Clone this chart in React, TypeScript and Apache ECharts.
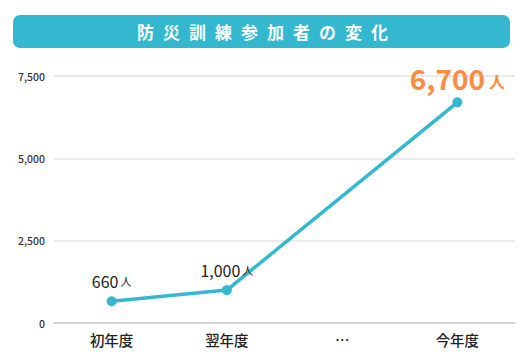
import React, { useEffect, useRef } from "react";
import * as echarts from "echarts";

const title = "防災訓練参加者の変化";
const categories = ["初年度", "翌年度", "…", "今年度"];
const values: (number | null)[] = [660, 1000, null, 6700];
const valueLabels = ["660", "1,000", "", "6,700"];
const unit = "人";

const FONT = "'Noto Sans CJK JP', 'Noto Sans', sans-serif";
const TEAL = "#33B8D0";
const ORANGE = "#FF8C3F";

export default function App() {
  const ref = useRef<HTMLDivElement>(null);
  useEffect(() => {
    if (!ref.current) return;
    const chart = echarts.init(ref.current, null, { renderer: "svg" });
    const data = values.map((v, i) => {
      if (v === null) return null;
      const last = i === values.length - 1;
      return {
        value: v,
        label: {
          show: true,
          position: "top",
          distance: last ? 5 : 7,
          formatter: `{a|${valueLabels[i]}}{b|${unit}}`,
          rich: last
            ? {
                a: { fontSize: 28, fontWeight: "bold", color: ORANGE, fontFamily: FONT },
                b: { fontSize: 16, fontWeight: "bold", color: ORANGE, fontFamily: FONT, padding: [6, 0, 0, 4] },
              }
            : {
                a: { fontSize: 16, color: "#222", fontFamily: FONT },
                b: { fontSize: 11, color: "#222", fontFamily: FONT, padding: [0, 0, 1, 2] },
              },
        },
      };
    });
    chart.setOption({
      animation: false,
      textStyle: { fontFamily: FONT },
      graphic: [
        {
          type: "rect",
          shape: { x: 13, y: 15, width: 497, height: 33, r: 7 },
          style: { fill: TEAL },
        },
        {
          type: "text",
          id: "title",
          x: 267,
          y: 31.5,
          style: {
            text: title,
            fill: "#fff",
            font: `bold 17px ${FONT}`,
            textAlign: "center",
            textVerticalAlign: "middle",
          },
        },
      ],
      grid: { left: 54, right: 16, top: 76, bottom: 31, containLabel: false },
      xAxis: {
        type: "category",
        data: categories,
        boundaryGap: true,
        axisLine: { show: true, lineStyle: { color: "#ccc", width: 1.5 } },
        axisTick: { show: false },
        axisLabel: { color: "#222", fontSize: 14.5, fontWeight: 500, margin: 9, fontFamily: FONT },
      },
      yAxis: {
        type: "value",
        min: 0,
        max: 7500,
        interval: 2500,
        axisLine: { show: false },
        axisTick: { show: false },
        splitLine: { lineStyle: { color: "#e2e2e2", width: 1.5 } },
        axisLabel: {
          color: "#333",
          fontSize: 10.5,
          fontWeight: 500,
          margin: 9,
          fontFamily: FONT,
          formatter: (v: number) => v.toLocaleString("en-US"),
        },
      },
      series: [
        {
          type: "line",
          data,
          connectNulls: true,
          symbol: "circle",
          symbolSize: 10,
          lineStyle: { color: TEAL, width: 3.5 },
          itemStyle: { color: TEAL },
        },
      ],
    });
    const svg = ref.current.querySelector("svg");
    if (svg) {
      svg.querySelectorAll("text").forEach((t) => {
        if (t.textContent === title) t.setAttribute("letter-spacing", "9px");
      });
    }
    return () => chart.dispose();
  }, []);
  return <div ref={ref} style={{ width: 531, height: 354, position: "absolute", left: 0, top: 0 }} />;
}
